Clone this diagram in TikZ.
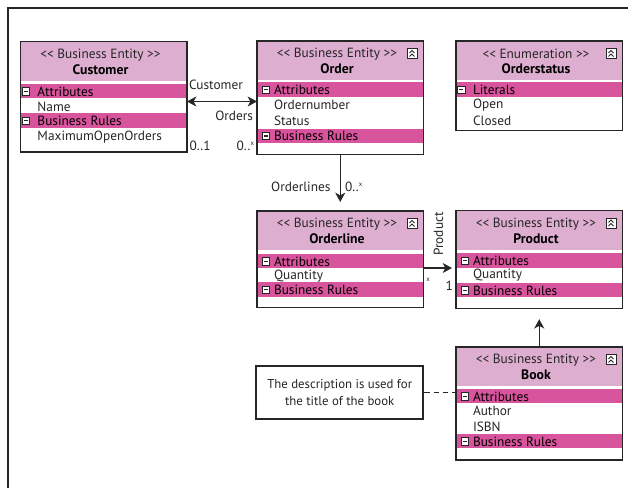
\documentclass[tikz,border=0pt]{standalone}
\usepackage{fontspec}
\setmainfont{PT Sans}
\usetikzlibrary{arrows.meta}

\definecolor{headpink}{RGB}{222,174,208}
\definecolor{bandpink}{RGB}{216,84,156}
\definecolor{inkgray}{RGB}{38,38,38}

\tikzset{every picture/.style={line width=0.75pt}}
\tikzset{
	classbox/.style={anchor=north west, inner sep=0pt, minimum width=124.1pt, fill=white},
	boxline/.style={draw=inkgray, line width=1pt},
	stereo/.style={inner sep=0pt, text=inkgray, font=\fontsize{10}{12}\selectfont},
	classname/.style={inner sep=0pt, text=black, font=\fontsize{10.3}{12}\selectfont\bfseries},
	rowtext/.style={anchor=west, inner sep=0pt, text=inkgray, font=\fontsize{10}{12}\selectfont},
	iconline/.style={draw=inkgray, line width=0.6pt},
	assoc/.style={draw=inkgray, line width=1pt},
	tip/.style={-{Stealth[length=7pt,width=7.5pt,inset=2pt]}},
	tips/.style={{Stealth[length=7pt,width=7.5pt,inset=2pt]}-{Stealth[length=7pt,width=7.5pt,inset=2pt]}},
	rolelabel/.style={inner sep=0pt, text=inkgray, font=\fontsize{10}{12}\selectfont},
	note/.style={draw=inkgray, line width=1.6pt, fill=white, minimum width=125.5pt, minimum height=40pt, align=center, inner sep=2pt, text=inkgray, font=\fontsize{9.6}{12.5}\selectfont},
	frameline/.style={draw=inkgray, line width=1.6pt}
}

% small raised x of a multiplicity
\newcommand{\multmark}{\raisebox{3.6pt}{\fontsize{5}{5}\selectfont x}}

% entity header: id, left, top, height, stereotype, name
\newcommand{\entityhead}[6]{%
	\node[classbox, minimum height={#4*0.75pt}] (#1) at (#2,#3) {};
	\fill[headpink] (#2,#3) rectangle ++(165.5,39.5);
	\node[stereo] (#1-st) at (#2+80,#3+13.3) {#5};
	\node[classname] (#1-nm) at (#2+80,#3+28) {#6};
}

% collapse button in the header: left, top of the entity
\newcommand{\collapseicon}[2]{%
	\draw[iconline, fill=white] (#1+150,#2+7.5) rectangle ++(10,10);
	\draw[iconline] (#1+152.5,#2+12) -- ++(2.5,-2.5) -- ++(2.5,2.5);
	\draw[iconline] (#1+152.5,#2+15.5) -- ++(2.5,-2.5) -- ++(2.5,2.5);
}

% section band: id, left, top, icon offset, label
\newcommand{\sectionband}[5]{%
	\fill[bandpink] (#2,#3) rectangle ++(165.5,14.5);
	\draw[iconline, fill=white] (#2+#4,#3+3.5) rectangle ++(7.5,7.5);
	\draw[iconline, line width=1pt] (#2+#4+1.75,#3+7.25) -- ++(4,0);
	\node[rowtext, text=black] (#1) at (#2+16.5,#3+7.5) {#5};
}

\begin{document}
\begin{tikzpicture}[x=0.75pt,y=0.75pt,yscale=-1,xscale=1]
	\useasboundingbox (0,0) rectangle (629,488);

	%Frame
	\draw[frameline] (8,488) -- (8,8.3) -- (628,8.3);

	%Entity: Customer
	\entityhead{customer}{20.5}{41.5}{109.5}{<{}< Business Entity >{}>}{Customer}
	\sectionband{customer-at}{20.5}{84}{1.5}{Attributes}
	\node[rowtext] (customer-r1) at (37,106.5) {Name};
	\sectionband{customer-br}{20.5}{113.5}{1.5}{Business Rules}
	\node[rowtext] (customer-r2) at (37,137.5) {MaximumOpenOrders};
	\draw[boxline] (customer.north west) rectangle (customer.south east);

	%Entity: Order
	\entityhead{order}{257}{41}{112.3}{<{}< Business Entity >{}>}{Order}
	\collapseicon{257}{41}
	\sectionband{order-at}{257}{82.5}{5}{Attributes}
	\node[rowtext] (order-r1) at (273.5,104.5) {Ordernumber};
	\node[rowtext] (order-r2) at (273.5,120.5) {Status};
	\sectionband{order-br}{257}{128.8}{5}{Business Rules}
	\draw[boxline] (order.north west) rectangle (order.south east);

	%Entity: Orderstatus
	\entityhead{status}{456}{41}{88.5}{<{}< Enumeration >{}>}{Orderstatus}
	\collapseicon{456}{41}
	\sectionband{status-li}{456}{82.5}{1.5}{Literals}
	\node[rowtext] (status-r1) at (472.5,105) {Open};
	\node[rowtext] (status-r2) at (472.5,120.7) {Closed};
	\draw[boxline] (status.north west) rectangle (status.south east);

	%Entity: Orderline
	\entityhead{orderline}{257}{211}{95.7}{<{}< Business Entity >{}>}{Orderline}
	\collapseicon{257}{211}
	\sectionband{orderline-at}{257}{254}{5}{Attributes}
	\node[rowtext] (orderline-r1) at (273.5,276) {Quantity};
	\sectionband{orderline-br}{257}{282.5}{5}{Business Rules}
	\draw[boxline] (orderline.north west) rectangle (orderline.south east);

	%Entity: Product
	\entityhead{product}{456}{210.5}{97}{<{}< Business Entity >{}>}{Product}
	\collapseicon{456}{210.5}
	\sectionband{product-at}{456}{253.5}{5}{Attributes}
	\node[rowtext] (product-r1) at (472.5,275.5) {Quantity};
	\sectionband{product-br}{456}{283}{5}{Business Rules}
	\draw[boxline] (product.north west) rectangle (product.south east);

	%Entity: Book
	\entityhead{book}{456}{347}{112}{<{}< Business Entity >{}>}{Book}
	\collapseicon{456}{347}
	\sectionband{book-at}{456}{389}{5}{Attributes}
	\node[rowtext] (book-r1) at (472.5,411) {Author};
	\node[rowtext] (book-r2) at (472.5,427) {ISBN};
	\sectionband{book-br}{456}{434}{5}{Business Rules}
	\draw[boxline] (book.north west) rectangle (book.south east);

	%Comment
	\node[note] (note) at (339.7,392.7) {The description is used for\\the title of the book};
	\draw[assoc, dash pattern=on 4pt off 3pt] (note.east) -- (note.east -| book.west);

	%Associations
	\coordinate (custorder) at (0,101.5);
	\draw[assoc, tips] (customer.east |- custorder) -- (order.west |- custorder);
	\draw[assoc, tip, shorten >=6.75pt] (order.south) -- (orderline.north);
	\coordinate (olprod) at (0,268);
	\draw[assoc, tip, shorten >=3pt] (orderline.east |- olprod) -- (product.west |- olprod);
	\draw[assoc, tip, shorten >=8pt] (book.north) -- (product.south);

	% Text Node
	\node[rolelabel, anchor=west] (lbl-customer) at (188.5,85) {Customer};
	% Text Node
	\node[rolelabel, anchor=east] (lbl-orders) at (253.5,116) {Orders};
	% Text Node
	\node[rolelabel, anchor=west] (mult-cust) at (189,146) {0..1};
	% Text Node
	\node[rolelabel, anchor=east] (mult-orders) at (254.5,146) {0..\multmark};
	% Text Node
	\node[rolelabel, anchor=east] (lbl-orderlines) at (331,186.5) {Orderlines};
	% Text Node
	\node[rolelabel, anchor=west] (mult-orderlines) at (344.5,186.5) {0..\multmark};
	% Text Node
	\node[rolelabel, rotate=90] (lbl-product) at (438.5,234) {Product};
	% Text Node
	\node[rolelabel] (mult-ol) at (428,280) {\fontsize{5}{5}\selectfont x};
	% Text Node
	\node[rolelabel] (mult-prod) at (449.3,286) {1};

\end{tikzpicture}
\end{document}
